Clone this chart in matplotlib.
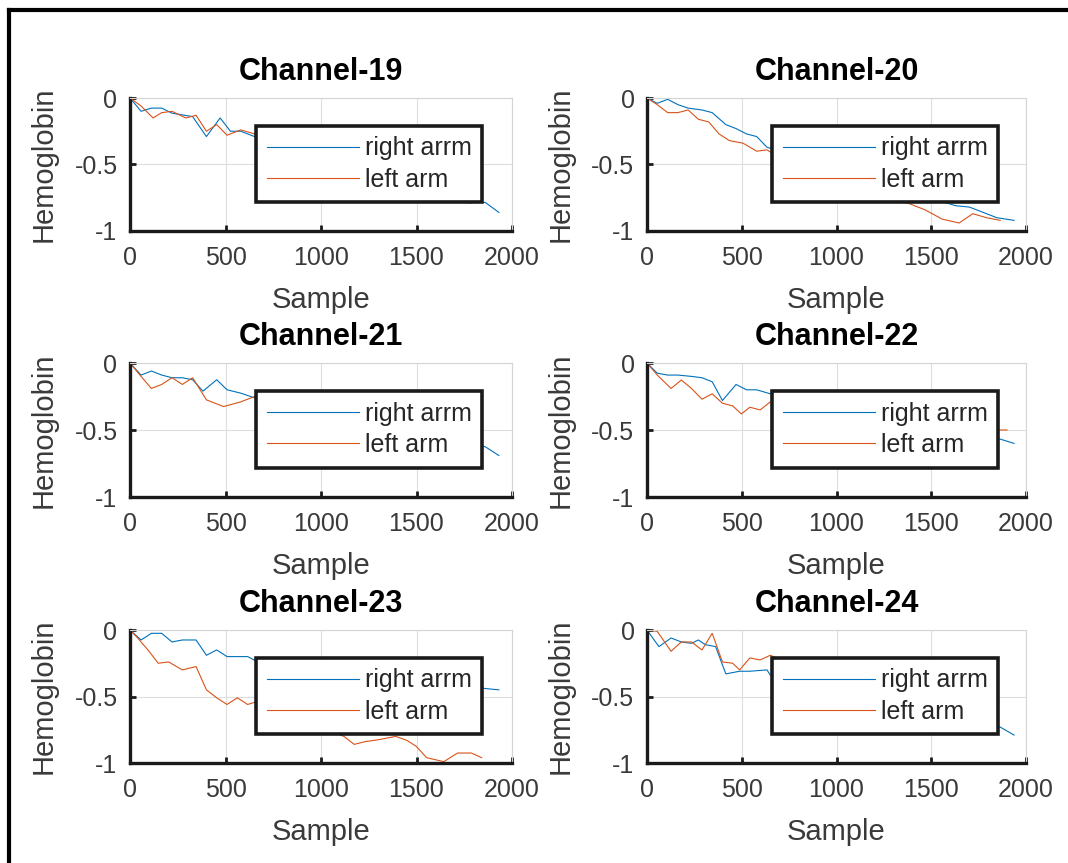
import matplotlib
matplotlib.use("Agg")
import matplotlib.pyplot as plt
from matplotlib.lines import Line2D

plt.rcParams['font.family'] = ['Liberation Sans', 'DejaVu Sans']

# sample positions and hemoglobin values, per channel
ch19_rx = [0, 58, 112, 166, 220, 274, 328, 400, 472, 526, 580, 652, 750, 850, 950, 1050, 1150, 1250, 1350, 1450, 1550, 1650, 1715, 1787, 1860, 1931]
ch19_ry = [0, -0.10, -0.076, -0.076, -0.114, -0.127, -0.14, -0.29, -0.15, -0.25, -0.25, -0.29, -0.33, -0.38, -0.42, -0.47, -0.52, -0.56, -0.60, -0.64, -0.69, -0.74, -0.77, -0.785, -0.785, -0.86]
ch19_lx = [0, 58, 121, 166, 220, 292, 346, 400, 454, 508, 580, 652, 750, 850, 950, 1050, 1150, 1250, 1350, 1450, 1550, 1650, 1720, 1790]
ch19_ly = [0, -0.06, -0.15, -0.11, -0.10, -0.15, -0.13, -0.25, -0.20, -0.28, -0.24, -0.27, -0.32, -0.36, -0.41, -0.45, -0.50, -0.55, -0.60, -0.65, -0.70, -0.75, -0.78, -0.79]

ch20_rx = [0, 54, 109, 163, 217, 290, 344, 416, 470, 525, 579, 633, 700, 800, 900, 1000, 1100, 1200, 1300, 1400, 1500, 1560, 1629, 1701, 1774, 1846, 1937]
ch20_ry = [0, -0.04, -0.01, -0.05, -0.076, -0.09, -0.11, -0.20, -0.23, -0.27, -0.29, -0.37, -0.40, -0.45, -0.50, -0.55, -0.60, -0.65, -0.70, -0.73, -0.76, -0.78, -0.81, -0.82, -0.86, -0.90, -0.92]
ch20_lx = [0, 54, 109, 163, 217, 271, 326, 380, 434, 507, 579, 633, 700, 800, 900, 1000, 1100, 1200, 1249, 1320, 1376, 1466, 1557, 1647, 1719, 1792, 1864]
ch20_ly = [0, -0.05, -0.11, -0.11, -0.09, -0.16, -0.18, -0.27, -0.32, -0.34, -0.40, -0.39, -0.45, -0.52, -0.58, -0.64, -0.70, -0.76, -0.785, -0.78, -0.79, -0.84, -0.91, -0.94, -0.87, -0.90, -0.92]

ch21_rx = [0, 58, 112, 166, 220, 274, 328, 382, 454, 508, 580, 652, 750, 850, 950, 1050, 1150, 1250, 1350, 1450, 1550, 1650, 1750, 1860, 1931]
ch21_ry = [0, -0.09, -0.06, -0.09, -0.11, -0.11, -0.125, -0.21, -0.125, -0.20, -0.225, -0.26, -0.29, -0.33, -0.36, -0.40, -0.43, -0.47, -0.50, -0.53, -0.56, -0.58, -0.60, -0.625, -0.69]
ch21_lx = [0, 58, 112, 166, 220, 274, 328, 400, 490, 580, 652, 750, 850, 950, 1050, 1150, 1250, 1350, 1450, 1550, 1625, 1700, 1760, 1830]
ch21_ly = [0, -0.10, -0.19, -0.16, -0.11, -0.16, -0.11, -0.275, -0.325, -0.29, -0.25, -0.30, -0.35, -0.40, -0.45, -0.50, -0.55, -0.60, -0.65, -0.72, -0.775, -0.76, -0.77, -0.775]

ch22_rx = [0, 54, 109, 163, 235, 290, 344, 398, 470, 525, 579, 651, 750, 850, 950, 1050, 1150, 1250, 1350, 1450, 1550, 1650, 1750, 1846, 1937]
ch22_ry = [0, -0.076, -0.09, -0.09, -0.10, -0.11, -0.14, -0.28, -0.16, -0.20, -0.20, -0.23, -0.26, -0.29, -0.32, -0.35, -0.38, -0.41, -0.44, -0.47, -0.50, -0.52, -0.54, -0.56, -0.60]
ch22_lx = [0, 54, 127, 181, 235, 290, 344, 398, 452, 498, 543, 597, 651, 750, 850, 950, 1050, 1150, 1250, 1350, 1450, 1550, 1650, 1750, 1900]
ch22_ly = [0, -0.09, -0.19, -0.127, -0.19, -0.27, -0.23, -0.30, -0.32, -0.38, -0.33, -0.35, -0.29, -0.33, -0.36, -0.38, -0.40, -0.42, -0.44, -0.46, -0.47, -0.48, -0.49, -0.50, -0.50]

ch23_rx = [0, 58, 112, 166, 220, 274, 346, 400, 454, 508, 616, 670, 750, 850, 950, 1050, 1150, 1250, 1350, 1450, 1550, 1650, 1750, 1860, 1931]
ch23_ry = [0, -0.075, -0.025, -0.025, -0.09, -0.075, -0.075, -0.19, -0.15, -0.20, -0.20, -0.24, -0.26, -0.28, -0.30, -0.32, -0.34, -0.36, -0.37, -0.39, -0.40, -0.41, -0.42, -0.44, -0.45]
ch23_lx = [0, 40, 94, 148, 202, 274, 346, 400, 454, 508, 562, 616, 661, 750, 850, 950, 1050, 1120, 1174, 1229, 1301, 1391, 1450, 1499, 1553, 1643, 1715, 1787, 1841]
ch23_ly = [0, -0.06, -0.15, -0.25, -0.24, -0.30, -0.275, -0.45, -0.51, -0.56, -0.51, -0.56, -0.54, -0.60, -0.66, -0.71, -0.76, -0.80, -0.86, -0.84, -0.825, -0.80, -0.83, -0.875, -0.96, -0.99, -0.925, -0.925, -0.96]

ch24_rx = [0, 63, 127, 181, 235, 271, 308, 362, 416, 489, 543, 633, 651, 750, 850, 950, 1050, 1150, 1250, 1350, 1450, 1550, 1650, 1750, 1864, 1937]
ch24_ry = [0, -0.125, -0.06, -0.09, -0.10, -0.075, -0.11, -0.125, -0.33, -0.31, -0.31, -0.30, -0.34, -0.38, -0.42, -0.46, -0.50, -0.54, -0.57, -0.60, -0.63, -0.66, -0.69, -0.71, -0.73, -0.79]
ch24_lx = [0, 54, 127, 181, 235, 290, 344, 398, 452, 489, 543, 597, 651, 750, 850, 950, 1050, 1150, 1250, 1350, 1450, 1550, 1650, 1750, 1850]
ch24_ly = [0, -0.01, -0.16, -0.09, -0.09, -0.15, -0.025, -0.24, -0.25, -0.30, -0.21, -0.225, -0.19, -0.25, -0.30, -0.34, -0.38, -0.42, -0.46, -0.50, -0.54, -0.58, -0.62, -0.66, -0.70]

titles = ['Channel-19', 'Channel-20', 'Channel-21', 'Channel-22', 'Channel-23', 'Channel-24']
series = [(ch19_rx, ch19_ry, ch19_lx, ch19_ly),
          (ch20_rx, ch20_ry, ch20_lx, ch20_ly),
          (ch21_rx, ch21_ry, ch21_lx, ch21_ly),
          (ch22_rx, ch22_ry, ch22_lx, ch22_ly),
          (ch23_rx, ch23_ry, ch23_lx, ch23_ly),
          (ch24_rx, ch24_ry, ch24_lx, ch24_ly)]
labels = ['right arrm', 'left arm']
xticks = [0, 500, 1000, 1500, 2000]
yticks = [-1, -0.5, 0]
ytick_labels = ['-1', '-0.5', '0']

BLUE = '#0072BD'
ORANGE = '#D95319'
W, H = 1068, 863

fig = plt.figure(figsize=(W / 100, H / 100), dpi=100)

# axes boxes in pixels
col_x = [(130, 512), (647, 1026)]
row_y = [(98, 231), (363, 497), (630, 763)]

for i, (title, (rx, ry, lx, ly)) in enumerate(zip(titles, series)):
    r, c = divmod(i, 2)
    x0, x1 = col_x[c]
    y0, y1 = row_y[r]
    ax = fig.add_axes([x0 / W, 1 - y1 / H, (x1 - x0) / W, (y1 - y0) / H])
    ax.plot(rx, ry, color=BLUE, lw=0.8, label=labels[0])
    ax.plot(lx, ly, color=ORANGE, lw=0.8, label=labels[1])
    ax.set_xlim(0, 2000)
    ax.set_ylim(-1, 0)
    ax.set_xticks(xticks)
    ax.set_yticks(yticks)
    ax.set_yticklabels(ytick_labels)
    ax.grid(True, color='#dedede', lw=0.8)
    ax.set_axisbelow(True)
    for side in ['left', 'bottom']:
        ax.spines[side].set_linewidth(2.4)
        ax.spines[side].set_color('#1a1a1a')
    for side in ['top', 'right']:
        ax.spines[side].set_linewidth(0.8)
        ax.spines[side].set_color('#d4d4d4')
    ax.tick_params(direction='in', length=4, width=2, colors='#1a1a1a',
                   labelcolor='#3a3a3a', labelsize=18)
    ax.tick_params(axis='x', pad=11)
    ax.tick_params(axis='y', pad=9)
    ax.set_title(title, fontsize=22, fontweight='bold', pad=13)
    ax.set_xlabel('Sample', fontsize=21, color='#3a3a3a', labelpad=11)
    ax.set_ylabel('Hemoglobin', fontsize=21, color='#3a3a3a', labelpad=12)
    leg = ax.legend(loc='upper left', bbox_to_anchor=(0.33, 0.79), borderaxespad=0,
                    fontsize=18, frameon=True, fancybox=False, framealpha=1,
                    edgecolor='#1a1a1a', handlelength=3.7, handletextpad=0.22,
                    labelspacing=0.3, borderpad=0.42)
    leg.get_frame().set_linewidth(2.6)
    for t in leg.get_texts():
        t.set_color('#262626')

# outer frame (left and top edges)
fig.add_artist(Line2D([9 / W, 9 / W], [0, 1 - 10 / H], transform=fig.transFigure, color='black', lw=3))
fig.add_artist(Line2D([9 / W, 1], [1 - 10 / H, 1 - 10 / H], transform=fig.transFigure, color='black', lw=3))

fig.savefig('out.png', dpi=100)
